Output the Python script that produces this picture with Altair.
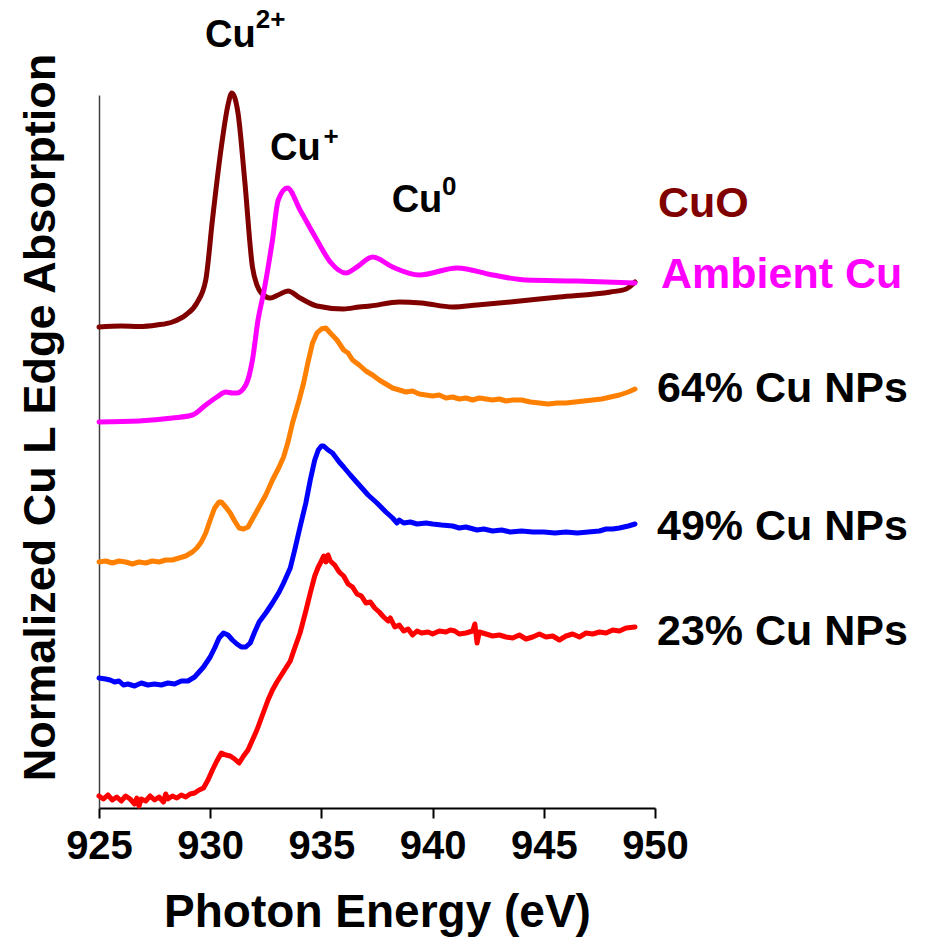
import altair as alt
import pandas as pd

# ---- spectra (photon energy in eV, offset absorption in arbitrary units) ----
cuo_E = [925.0, 926.0, 926.8, 927.6, 928.3, 928.9, 929.4, 929.8, 930.1, 930.5, 930.8, 930.97,
         931.25, 931.55, 931.9, 932.1, 932.3, 932.7, 933.05, 933.5, 934.04, 934.8, 936.0, 936.7,
         937.2, 938.5, 939.5, 940.9, 942.0, 943.5, 945.7, 948.0, 948.7, 949.1]
cuo_A = [481, 482, 481.5, 483, 486, 493, 505, 528, 588, 661, 703, 715,
         695, 628, 541, 523, 515, 510, 513, 517, 510, 502, 499, 501,
         502, 506, 505, 501, 503, 506, 511, 516, 519, 526]

amb_E = [925.0, 926.8, 928.3, 929.2, 929.8, 930.3, 930.7, 931.0, 931.2, 931.6, 931.9, 932.15,
         932.4, 932.8, 933.06, 933.47, 934.04, 934.8, 935.4, 936.1, 936.6, 937.3, 938.2, 939.4,
         941.1, 942.7, 944.2, 946.5, 949.1]
amb_A = [386, 387, 390, 393, 403, 411, 416, 415, 415, 423, 448, 488,
         515, 568, 608, 620, 598, 568, 546, 535, 541, 551, 541, 533,
         540, 533, 528, 527, 525]

np64_E = [925.0, 925.3, 925.6, 925.9, 926.2, 926.5, 926.8, 927.1, 927.4, 927.7, 928.0, 928.3,
          928.6, 928.9, 929.2, 929.4, 929.6, 929.8, 930.0, 930.2, 930.4, 930.5, 930.7, 930.9,
          931.1, 931.3, 931.5, 931.7, 931.9, 932.2, 932.5, 932.8, 933.1, 933.3, 933.5, 933.7,
          934.0, 934.2, 934.4, 934.6, 934.8, 935.0, 935.2, 935.4, 935.7, 936.0, 936.2, 936.4,
          936.7, 937.0, 937.3, 937.6, 937.9, 938.2, 938.5, 938.8, 939.1, 939.4, 939.7, 940.0,
          940.3, 940.6, 940.9, 941.2, 941.5, 941.8, 942.1, 942.4, 942.7, 943.0, 943.3, 943.6,
          944.0, 944.4, 944.8, 945.2, 945.6, 946.0, 946.4, 946.8, 947.2, 947.6, 948.0, 948.4,
          948.8, 949.1]
np64_A = [246, 247, 245, 247, 246, 244, 246, 245, 247, 246, 248, 248,
          250, 252, 256, 260, 266, 275, 288, 300, 306, 306, 301, 295,
          287, 280, 279, 281, 289, 301, 313, 328, 341, 351, 366, 385,
          408, 425, 446, 465, 475, 479, 480, 475, 468, 458, 455, 448,
          443, 437, 433, 428, 424, 420, 418, 416, 417, 414, 413, 412,
          413, 410, 411, 409, 410, 408, 410, 409, 408, 409, 407, 408,
          408, 406, 405, 404, 405, 405, 406, 407, 408, 409, 411, 413,
          416, 419]

np49_E = [925.0, 925.3, 925.5, 925.7, 925.9, 926.1, 926.3, 926.6, 926.9, 927.2, 927.5, 927.8,
          928.1, 928.4, 928.7, 929.0, 929.3, 929.5, 929.7, 930.0, 930.2, 930.4, 930.6, 930.8,
          931.0, 931.2, 931.4, 931.6, 931.8, 932.0, 932.2, 932.5, 932.8, 933.1, 933.3, 933.6,
          933.8, 934.04, 934.3, 934.5, 934.7, 934.86, 935.0, 935.1, 935.3, 935.5, 935.8, 936.0,
          936.3, 936.7, 937.1, 937.5, 937.9, 938.2, 938.4, 938.5, 938.7, 939.0, 939.3, 939.7,
          940.0, 940.4, 940.9, 941.2, 941.5, 942.0, 942.3, 942.7, 943.1, 943.5, 944.0, 944.5,
          945.0, 945.5, 946.0, 946.5, 947.0, 947.5, 947.8, 948.1, 948.4, 948.8, 949.1]
np49_A = [130, 129, 128, 126, 127, 123, 124, 122, 125, 123, 124, 123,
          125, 124, 127, 127, 131, 136, 141, 151, 160, 170, 175, 173,
          168, 164, 161, 161, 165, 176, 186, 195, 205, 216, 225, 240,
          258, 281, 305, 328, 348, 358, 362, 362, 358, 355, 346, 341,
          333, 323, 313, 305, 296, 290, 285, 288, 285, 286, 284, 285,
          284, 283, 282, 280, 281, 278, 279, 277, 278, 276, 277, 276,
          276, 275, 276, 275, 276, 277, 279, 279, 280, 282, 284]

np23_E = [925.0, 925.2, 925.4, 925.6, 925.8, 926.0, 926.2, 926.4, 926.6, 926.7, 926.8, 926.9,
          927.1, 927.3, 927.5, 927.7, 927.9, 928.0, 928.1, 928.3, 928.5, 928.7, 928.9, 929.1,
          929.3, 929.5, 929.7, 929.9, 930.1, 930.3, 930.5, 930.7, 930.9, 931.1, 931.3, 931.5,
          931.7, 931.9, 932.1, 932.4, 932.6, 932.8, 933.0, 933.2, 933.4, 933.6, 933.8, 934.04,
          934.3, 934.5, 934.7, 934.86, 935.0, 935.1, 935.2, 935.3, 935.4, 935.6, 935.8, 936.0,
          936.2, 936.4, 936.6, 936.8, 937.0, 937.2, 937.4, 937.6, 937.8, 938.0, 938.1, 938.3,
          938.5, 938.7, 938.9, 939.1, 939.3, 939.5, 939.8, 940.0, 940.3, 940.6, 940.8, 941.0,
          941.2, 941.5, 941.8, 941.9, 942.0, 942.1, 942.4, 942.7, 943.0, 943.3, 943.6, 943.9,
          944.2, 944.5, 944.8, 945.1, 945.4, 945.7, 946.0, 946.3, 946.6, 946.9, 947.2, 947.5,
          947.8, 948.1, 948.4, 948.7, 949.1]
np23_A = [12, 9, 13, 8, 11, 7, 12, 9, 4, 10, 2, 9,
          7, 12, 8, 11, 6, 14, 9, 12, 10, 13, 11, 14,
          15, 18, 20, 28, 38, 47, 55, 53, 52, 49, 45, 52,
          58, 68, 78, 96, 108, 118, 126, 133, 140, 147, 160, 175,
          197, 215, 232, 241, 247, 252, 246, 253, 247, 243, 236, 232,
          224, 221, 214, 212, 205, 206, 200, 196, 191, 187, 190, 181,
          183, 177, 179, 173, 177, 175, 176, 174, 177, 176, 178, 177,
          174, 175, 177, 184, 165, 176, 174, 172, 173, 171, 170, 173,
          169, 171, 174, 171, 172, 168, 172, 174, 171, 175, 174, 176,
          175, 178, 177, 180, 181]

series_names = ["23% Cu NPs", "49% Cu NPs", "64% Cu NPs", "CuO", "Ambient Cu"]
series_colors = ["#ff0000", "#0000ff", "#ff8000", "#800000", "#ff00ff"]
series_E = [np23_E, np49_E, np64_E, cuo_E, amb_E]
series_A = [np23_A, np49_A, np64_A, cuo_A, amb_A]
series_smooth = [False, False, False, True, True]

# ---- text annotations ----
side_labels = ["CuO", "Ambient Cu", "64% Cu NPs", "49% Cu NPs", "23% Cu NPs"]
side_colors = ["#800000", "#ff00ff", "#000000", "#000000", "#000000"]
side_E = [950.13, 950.27, 950.09, 950.09, 950.09]
side_A = [591, 520, 406, 268, 163]

ox_labels = ["Cu", "Cu", "Cu"]
ox_E = [929.77, 932.69, 938.16]
ox_A = [761, 648, 596]
sup_labels = ["2+", "+", "0"]
sup_E = [932.05, 935.10, 940.42]
sup_A = [780, 663, 613]

x_ticks = [925, 930, 935, 940, 945, 950]

FONT = "Liberation Sans, Arial, Helvetica, sans-serif"

x_enc = alt.X("E:Q", scale=alt.Scale(domain=[925, 950], nice=False, zero=False),
              axis=alt.Axis(values=x_ticks, format="d", title="Photon Energy (eV)", grid=False,
                            domainColor="#000000", domainWidth=2, tickColor="#000000",
                            tickWidth=2, tickSize=10, labelFont=FONT, labelFontSize=40,
                            labelFontWeight="bold", labelColor="#000000", labelPadding=8,
                            labelOverlap=False, labelBound=False, labelFlush=False,
                            titleFont=FONT, titleFontSize=46, titleFontWeight="bold",
                            titleColor="#000000", titlePadding=24))
y_enc = alt.Y("A:Q", scale=alt.Scale(domain=[0, 713], nice=False, zero=False),
              axis=alt.Axis(title="Normalized Cu L Edge Absorption", ticks=False, labels=False,
                            grid=False, domainColor="#404040", domainWidth=1.5,
                            titleFont=FONT, titleFontSize=45, titleFontWeight="bold",
                            titleColor="#000000", titleX=-45, titleY=322, titleAngle=270,
                            titleAlign="center", titleBaseline="alphabetic"))

layers = []
for name, col, E, A, smooth in zip(series_names, series_colors, series_E, series_A, series_smooth):
    df = pd.DataFrame({"E": E, "A": A, "series": name})
    mk = alt.Chart(df).mark_line(color=col, strokeWidth=5,
                                 interpolate="monotone" if smooth else "linear",
                                 strokeJoin="round", strokeCap="round")
    layers.append(mk.encode(x=x_enc, y=y_enc))

side_df = pd.DataFrame({"E": side_E, "A": side_A, "label": side_labels, "color": side_colors})
side = alt.Chart(side_df).mark_text(align="left", baseline="alphabetic", font=FONT,
                                    fontSize=43, fontWeight="bold").encode(
    x="E:Q", y="A:Q", text="label:N", color=alt.Color("color:N", scale=None))

ox_df = pd.DataFrame({"E": ox_E, "A": ox_A, "label": ox_labels})
ox = alt.Chart(ox_df).mark_text(align="left", baseline="alphabetic", font=FONT,
                                fontSize=38, fontWeight="bold", color="#000000").encode(
    x="E:Q", y="A:Q", text="label:N")

sup_df = pd.DataFrame({"E": sup_E, "A": sup_A, "label": sup_labels})
sup = alt.Chart(sup_df).mark_text(align="left", baseline="alphabetic", font=FONT,
                                  fontSize=26, fontWeight="bold", color="#000000").encode(
    x="E:Q", y="A:Q", text="label:N")

chart = alt.layer(*layers, side, ox, sup).properties(
    width=556, height=713,
    autosize=alt.AutoSizeParams(type="none"),
    padding={"left": 99, "top": 95, "right": 271, "bottom": 134},
    background="#ffffff",
).configure_view(strokeWidth=0)

chart.save("out.html", embed_options={"renderer": "svg", "actions": False})
